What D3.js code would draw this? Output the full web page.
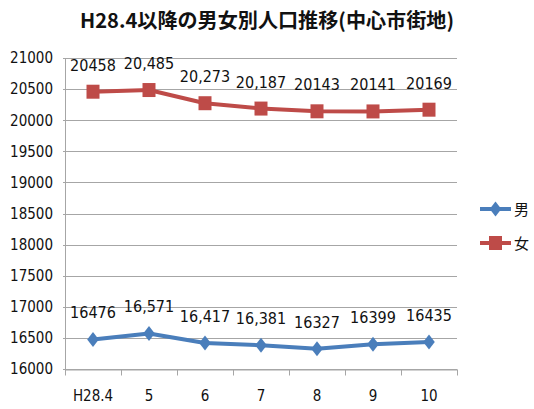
<!DOCTYPE html>
<html>
<head>
<meta charset="utf-8">
<script src="https://cdn.jsdelivr.net/npm/d3@7"></script>
<style>
  html, body { margin: 0; padding: 0; background: #fff; }
  svg { display: block; }
</style>
</head>
<body>
<svg id="chart" width="534" height="409"></svg>
<script>
// Population by sex since H28.4 (central city area)
const categories = ["H28.4", "5", "6", "7", "8", "9", "10"];
const maleValues = [16476, 16571, 16417, 16381, 16327, 16399, 16435];
const femaleValues = [20458, 20485, 20273, 20187, 20143, 20141, 20169];
const maleLabels = ["16476", "16,571", "16,417", "16,381", "16327", "16399", "16435"];
const femaleLabels = ["20458", "20,485", "20,273", "20,187", "20143", "20141", "20169"];
const yTicks = [16000, 16500, 17000, 17500, 18000, 18500, 19000, 19500, 20000, 20500, 21000];
const seriesNames = ["男", "女"];
const titleText = "H28.4以降の男女別人口推移(中心市街地)";

const blue = "#4A7EBB";
const red = "#BE4B48";
const labelFont = "'Liberation Sans Narrow', 'DejaVu Sans Condensed', 'Noto Sans', sans-serif";

const svg = d3.select("#chart");
const plot = { left: 65, right: 457, top: 58, bottom: 369 };

const x = d3.scaleBand().domain(categories).range([plot.left, plot.right]);
const y = d3.scaleLinear().domain([16000, 21000]).range([plot.bottom, plot.top]);
const cx = c => x(c) + x.bandwidth() / 2;

// Marker shapes: a tall diamond and a near-square block
const tallDiamond = {
  draw(ctx) {
    ctx.moveTo(0, -7.5); ctx.lineTo(5.8, 0); ctx.lineTo(0, 7.5); ctx.lineTo(-5.8, 0); ctx.closePath();
  }
};
const block = {
  draw(ctx) {
    ctx.rect(-6.5, -7, 13, 14);
  }
};
const diamond = d3.symbol().type(tallDiamond);
const square = d3.symbol().type(block);

// Title
svg.append("text")
  .attr("x", 267).attr("y", 28)
  .attr("text-anchor", "middle")
  .attr("font-family", "'Noto Sans CJK JP', sans-serif")
  .attr("font-weight", "bold")
  .attr("font-size", 20)
  .attr("textLength", 374)
  .attr("lengthAdjust", "spacingAndGlyphs")
  .attr("fill", "#111")
  .text(titleText);

// Horizontal gridlines
svg.append("g")
  .selectAll("line")
  .data(yTicks)
  .join("line")
  .attr("x1", plot.left - 2).attr("x2", plot.right)
  .attr("y1", d => Math.round(y(d)) + 0.5).attr("y2", d => Math.round(y(d)) + 0.5)
  .attr("stroke", "#A6A6A6").attr("stroke-width", 1);

// Y axis
const yAxis = svg.append("g")
  .attr("transform", `translate(${plot.left},0)`)
  .call(d3.axisLeft(y).tickValues(yTicks).tickFormat(d3.format("d")).tickSize(0).tickPadding(12));
yAxis.select(".domain").attr("stroke", "#A6A6A6");
yAxis.selectAll("text")
  .attr("font-family", labelFont)
  .attr("font-size", 15)
  .attr("fill", "#111");

// X axis with ticks on category boundaries
const xAxis = svg.append("g")
  .attr("transform", `translate(0,${plot.bottom + 0.5})`)
  .call(d3.axisBottom(x).tickSize(0).tickPadding(21));
xAxis.select(".domain").attr("stroke", "#A6A6A6");
xAxis.selectAll("text")
  .attr("font-family", labelFont)
  .attr("font-size", 15)
  .attr("fill", "#111");
const bounds = categories.map(c => x(c)).concat([x(categories[categories.length - 1]) + x.bandwidth()]);
xAxis.selectAll("line.bound")
  .data(bounds)
  .join("line")
  .attr("class", "bound")
  .attr("x1", d => Math.round(d) + 0.5).attr("x2", d => Math.round(d) + 0.5)
  .attr("y1", 0).attr("y2", 6)
  .attr("stroke", "#A6A6A6");

const line = d3.line().x((d, i) => cx(categories[i])).y(d => y(d));

function drawSeries(values, labels, color, symbolGen) {
  svg.append("path")
    .datum(values)
    .attr("d", line)
    .attr("fill", "none")
    .attr("stroke", color)
    .attr("stroke-width", 4)
    .attr("stroke-linejoin", "round");
  svg.append("g")
    .selectAll("path")
    .data(values)
    .join("path")
    .attr("d", symbolGen)
    .attr("transform", (d, i) => `translate(${cx(categories[i])},${y(d)})`)
    .attr("fill", color);
  svg.append("g")
    .selectAll("text")
    .data(values)
    .join("text")
    .attr("x", (d, i) => cx(categories[i]))
    .attr("y", d => y(d) - 21)
    .attr("text-anchor", "middle")
    .attr("font-family", labelFont)
    .attr("font-size", 16)
    .attr("fill", "#111")
    .text((d, i) => labels[i]);
}

drawSeries(femaleValues, femaleLabels, red, square);
drawSeries(maleValues, maleLabels, blue, diamond);

// Legend
const legend = [
  { name: seriesNames[0], color: blue, sym: diamond, ly: 209 },
  { name: seriesNames[1], color: red, sym: square, ly: 243 }
];
const lg = svg.append("g").selectAll("g").data(legend).join("g")
  .attr("transform", d => `translate(0,${d.ly})`);
lg.append("line")
  .attr("x1", 480).attr("x2", 511).attr("y1", 0).attr("y2", 0)
  .attr("stroke", d => d.color).attr("stroke-width", 4);
lg.append("path")
  .attr("d", d => d.sym())
  .attr("transform", "translate(495.5,0)")
  .attr("fill", d => d.color);
lg.append("text")
  .attr("x", 514).attr("y", 6)
  .attr("font-family", "'Noto Sans CJK JP', sans-serif")
  .attr("font-size", 15)
  .attr("fill", "#111")
  .text(d => d.name);
</script>
</body>
</html>
